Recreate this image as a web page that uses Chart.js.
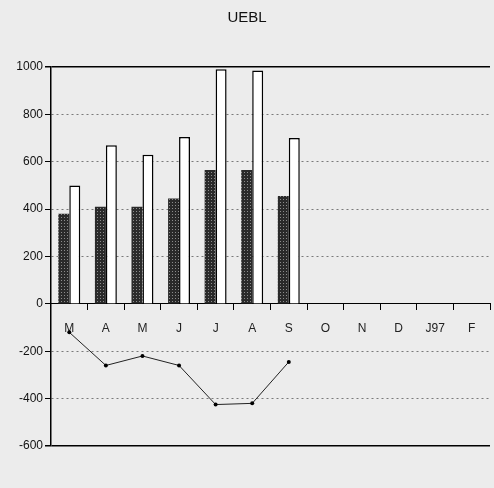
<!DOCTYPE html>
<html lang="en">
<head>
<meta charset="UTF-8">
<title>UEBL</title>
<script src="https://cdn.jsdelivr.net/npm/chart.js"></script>
<style>
  html, body { margin: 0; padding: 0; background: #ececec; }
  #wrap { width: 494px; height: 488px; }
</style>
</head>
<body>
<div id="wrap"><canvas id="uebl"></canvas></div>
<script>
const months = ['M', 'A', 'M', 'J', 'J', 'A', 'S', 'O', 'N', 'D', 'J97', 'F'];
const darkSeries = [380, 410, 410, 445, 565, 565, 455];
const lightSeries = [500, 670, 630, 705, 990, 985, 700];
const netSeries = [-120, -260, -220, -260, -425, -420, -245];
const yMin = -600, yMax = 1000, yStep = 200;

// small dotted fill for the dark bars
function dotPattern() {
    const c = document.createElement('canvas');
    c.width = 3; c.height = 3;
    const g = c.getContext('2d');
    g.fillStyle = '#2a2a2a';
    g.fillRect(0, 0, 3, 3);
    g.fillStyle = '#8c8c8c';
    g.fillRect(1, 1, 1, 1);
    return g.createPattern(c, 'repeat');
}

const isEdge = v => v === yMin || v === yMax;

const ctx = document.getElementById('uebl').getContext('2d');
new Chart(ctx, {
    data: {
        labels: months,
        datasets: [
            {
                type: 'line',
                data: netSeries,
                borderColor: '#222',
                borderWidth: 1,
                pointRadius: 2,
                pointBackgroundColor: '#000',
                pointBorderWidth: 0,
                order: 0
            },
            {
                type: 'bar',
                data: darkSeries,
                backgroundColor: dotPattern(),
                borderWidth: 0,
                barPercentage: 1,
                categoryPercentage: 0.6,
                order: 1
            },
            {
                type: 'bar',
                data: lightSeries,
                backgroundColor: '#fff',
                borderColor: '#000',
                borderWidth: 1.5,
                barPercentage: 1,
                categoryPercentage: 0.6,
                order: 1
            }
        ]
    },
    options: {
        responsive: true,
        maintainAspectRatio: false,
        animation: false,
        layout: { padding: { bottom: 42, right: 0 } },
        plugins: {
            legend: { display: false },
            tooltip: { enabled: false },
            title: {
                display: true,
                text: 'UEBL',
                color: '#111',
                font: { family: 'Liberation Sans', size: 15, weight: 'normal' },
                padding: { top: 9, bottom: 40 }
            }
        },
        scales: {
            x: {
                position: { y: 0 },
                offset: true,
                grid: { drawOnChartArea: false, offset: true, tickLength: 6, tickColor: '#000' },
                border: { color: '#000', width: 1 },
                ticks: {
                    color: '#222',
                    padding: 12,
                    autoSkip: false,
                    maxRotation: 0,
                    font: { family: 'Liberation Sans', size: 12 }
                }
            },
            y: {
                min: yMin,
                max: yMax,
                afterFit: s => { s.width = 51; },
                ticks: {
                    stepSize: yStep,
                    color: '#111',
                    padding: 2,
                    font: { family: 'Liberation Sans', size: 12 },
                    callback: v => String(v)
                },
                grid: {
                    color: c => (c.tick && isEdge(c.tick.value)) ? '#000' : '#7a7a7a',
                    lineWidth: c => (c.tick && isEdge(c.tick.value)) ? 1.5 : 1,
                    tickLength: 6,
                    tickColor: '#000'
                },
                border: {
                    color: '#000',
                    width: 1.5,
                    dash: c => (c.tick && !isEdge(c.tick.value)) ? [2, 3] : []
                }
            }
        }
    }
});
</script>
</body>
</html>
